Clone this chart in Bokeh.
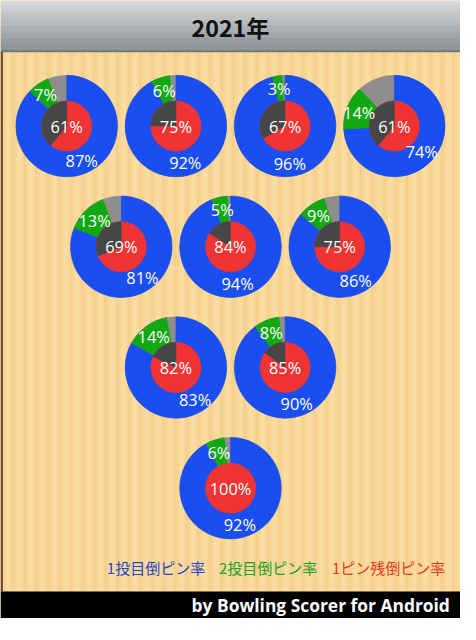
import numpy as np
from bokeh.plotting import figure
from bokeh.models import Range1d
from bokeh.core.properties import value
from bokeh.embed import file_html
from bokeh.resources import INLINE

# ---- data (pins 1..10) ----
title = "2021年"
pins = [1, 2, 3, 4, 5, 6, 7, 8, 9, 10]
first_rate = [92, 83, 90, 81, 94, 86, 87, 92, 96, 74]      # 1投目倒ピン率
second_rate = [6, 14, 8, 13, 5, 9, 7, 6, 3, 14]           # 2投目倒ピン率
single_rate = [100, 82, 85, 69, 84, 75, 61, 75, 67, 61]   # 1ピン残倒ピン率
legend_labels = ["1投目倒ピン率", "2投目倒ピン率", "1ピン残倒ピン率"]
footer = "by Bowling Scorer for Android"
pin_rows = [[7, 8, 9, 10], [4, 5, 6], [2, 3], [1]]

# ---- styling ----
W, H = 476, 640
S = 460 / 476.0
BLUE = "#1a4ef0"
GREEN = "#12a812"
GRAY = "#8e8e8e"
RED = "#f03434"
DARK = "#464646"
R_OUT = 52.5
R_IN = 26
R_LAB = 39

def fy(y):
    return H - y

p = figure(width=460, height=int(round(H * S)), x_range=Range1d(0, W), y_range=Range1d(0, H),
           output_backend="svg", toolbar_location=None, min_border=0,
           x_axis_location=None, y_axis_location=None)
p.grid.visible = False
p.outline_line_color = None
p.background_fill_color = "#f9d697"
p.border_fill_color = "#f9d697"

# wood background
top_w, bot_w = 53, 612
p.quad(left=0, right=W, bottom=fy(bot_w), top=fy(top_w), fill_color="#f8d594", line_color=None)
sx = np.arange(2, W, 12.0)
p.quad(left=sx + 3, right=sx + 8, bottom=fy(bot_w), top=fy(top_w), fill_color="#fce2ad",
       fill_alpha=0.55, line_color=None)
p.quad(left=sx + 10.5, right=sx + 11.5, bottom=fy(bot_w), top=fy(top_w), fill_color="#e8bf7e",
       fill_alpha=0.4, line_color=None)
p.quad(left=0, right=2.5, bottom=fy(bot_w), top=fy(top_w), fill_color="#6b4a2a", line_color=None)

# header gradient
n = 30
hy = np.linspace(0, top_w, n + 1)
c0 = np.array([0xd8, 0xdb, 0xdd]); c1 = np.array([0x84, 0x8d, 0x95])
cols = ["#%02x%02x%02x" % tuple((c0 + (c1 - c0) * t).astype(int)) for t in np.linspace(0, 1, n)]
p.quad(left=0, right=W, top=fy(hy[:-1]), bottom=fy(hy[1:]) - 0.3, fill_color=cols, line_color=None)
p.quad(left=0, right=W, top=fy(top_w - 1), bottom=fy(top_w + 0.5), fill_color="#6e757b", line_color=None)
p.text(x=[W / 2], y=[fy(27)], text=[title], text_align="center", text_baseline="middle",
       text_font=value("Noto Sans CJK JP"), text_font_style="bold",
       text_font_size="%.1fpx" % (24 * S), text_color="#111111")

# footer
p.quad(left=0, right=W, top=fy(bot_w), bottom=0, fill_color="#000000", line_color=None)
p.text(x=[465], y=[fy(626)], text=[footer], text_align="right", text_baseline="middle",
       text_font=value("Open Sans"), text_font_style="bold",
       text_font_size="%.1fpx" % (18 * S), text_color="#ffffff")

# legend
p.text(x=[110, 226, 343], y=[fy(587)] * 3, text=legend_labels, text_align="left",
       text_baseline="middle", text_font=value("Noto Sans CJK JP"),
       text_font_size="%.1fpx" % (15.5 * S), text_color=["#2345c8", "#22a022", "#e23a26"])

# pin positions
cx, x_step, y0, y_step = 238, 113, 130, 125
pos = {}
for r, row in enumerate(pin_rows):
    for c, pin in enumerate(row):
        pos[pin] = (cx + (c - (len(row) - 1) / 2.0) * x_step, y0 + r * y_step)

xs = np.array([pos[k][0] for k in pins])
ys = np.array([fy(pos[k][1]) for k in pins])
b = np.array(first_rate) / 100.0
g = np.array(second_rate) / 100.0
s1 = np.array(single_rate) / 100.0
top = np.pi / 2
TWO = 2 * np.pi

# outer ring: gray base, blue and green wedges
p.circle(x=xs, y=ys, radius=R_OUT, fill_color=GRAY, line_color=GRAY, line_width=0.5)
p.wedge(x=xs, y=ys, radius=R_OUT, start_angle=top, end_angle=top - TWO * b, direction="clock",
        fill_color=BLUE, line_color=BLUE, line_width=0.5)
m = g > 0
p.wedge(x=xs[m], y=ys[m], radius=R_OUT, start_angle=top - TWO * b[m], end_angle=top - TWO * (b[m] + g[m]),
        direction="clock", fill_color=GREEN, line_color=GREEN, line_width=0.5)

# inner pie: red base, dark remainder
p.circle(x=xs, y=ys, radius=R_IN, fill_color=RED, line_color=RED, line_width=0.5)
m2 = s1 < 1
p.wedge(x=xs[m2], y=ys[m2], radius=R_IN, start_angle=top - TWO * s1[m2], end_angle=top - TWO,
        direction="clock", fill_color=DARK, line_color=DARK, line_width=0.5)

# labels
fs = "%.1fpx" % (17 * S)
ab = top - TWO * b / 2
p.text(x=xs + R_LAB * np.cos(ab), y=ys + R_LAB * np.sin(ab), text=["%d%%" % v for v in first_rate],
       text_align="center", text_baseline="middle", text_font=value("Open Sans"),
       text_font_size=fs, text_color="white")
ag = top - TWO * (b + g / 2)
p.text(x=(xs + R_LAB * np.cos(ag))[m], y=(ys + R_LAB * np.sin(ag))[m],
       text=["%d%%" % v for v, k in zip(second_rate, m) if k],
       text_align="center", text_baseline="middle", text_font=value("Open Sans"),
       text_font_size=fs, text_color="white")
p.text(x=xs, y=ys, text=["%d%%" % v for v in single_rate],
       text_align="center", text_baseline="middle", text_font=value("Open Sans"),
       text_font_size=fs, text_color="white")

open("out.html", "w").write(file_html(p, INLINE))
